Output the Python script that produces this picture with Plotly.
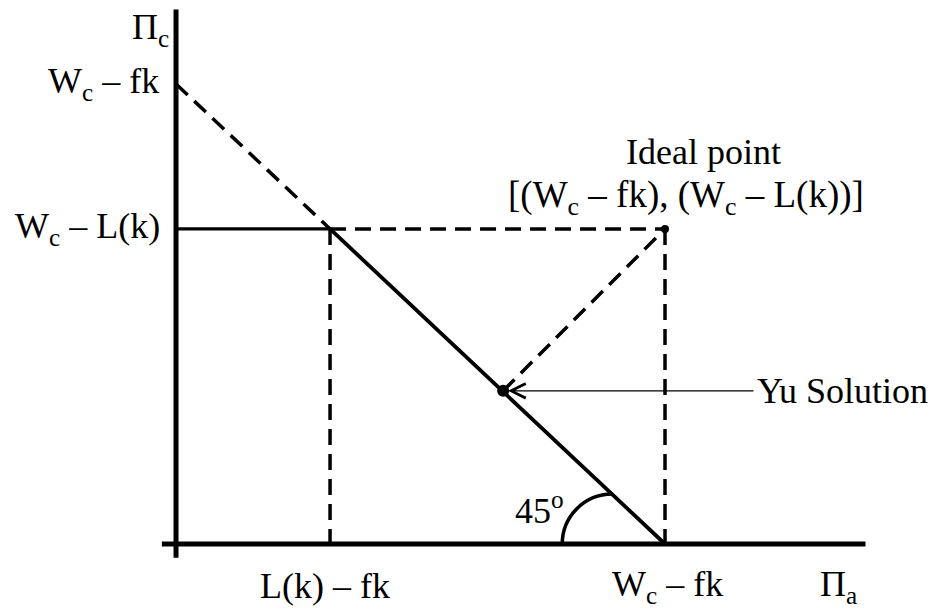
import plotly.graph_objects as go

# Conceptual values (abstract units: W_c - fk = 10 on both axes)
Wc_fk = 10.0            # intercept on both axes (W_c - fk)
Lk_fk = 3.15            # L(k) - fk on the Pi_a axis
Wc_Lk = 6.85            # W_c - L(k) on the Pi_c axis
ideal_point = [Wc_fk, Wc_Lk]
yu_solution = [6.69, 3.33]
axis_x_extent = [-0.29, 14.1]
axis_y_extent = [-0.3, 11.62]
arc_center_x = 8.92
arc_rx, arc_ry = 1.022, 1.087

tick_labels_y = ["W<sub>c</sub> – fk", "W<sub>c</sub> – L(k)"]
tick_labels_x = ["L(k) – fk", "W<sub>c</sub> – fk"]

FONT = "Liberation Serif"
FS = 36
BLACK = "black"
DASH = "16px,9px"

fig = go.Figure()

def seg(x0, y0, x1, y1, width, dash=None):
    fig.add_shape(type="line", x0=x0, y0=y0, x1=x1, y1=y1, xref="x", yref="y",
                  line=dict(color=BLACK, width=width, dash=dash), layer="above")

# axes
seg(0, axis_y_extent[0], 0, axis_y_extent[1], 5)
seg(axis_x_extent[0], 0, axis_x_extent[1], 0, 5)

# solid frontier
seg(0, Wc_Lk, Lk_fk, Wc_Lk, 3.2)
seg(Lk_fk, Wc_Lk, Wc_fk, 0, 3.8)

# dashed lines
seg(0, Wc_fk, Lk_fk, Wc_Lk, 3.5, DASH)
seg(Lk_fk, Wc_Lk, ideal_point[0], ideal_point[1], 3.5, DASH)
seg(Lk_fk, Wc_Lk, Lk_fk, 0, 3.5, DASH)
seg(ideal_point[0], ideal_point[1], ideal_point[0], 0, 3.5, DASH)
seg(yu_solution[0], yu_solution[1], ideal_point[0], ideal_point[1], 3.5, DASH)

# 45 degree arc (quarter circle drawn as cubic bezier)
k = 0.5523
cx = arc_center_x
p = (f"M {cx - arc_rx},0 C {cx - arc_rx},{k * arc_ry} {cx - k * arc_rx},{arc_ry} {cx},{arc_ry}")
fig.add_shape(type="path", path=p, xref="x", yref="y",
              line=dict(color=BLACK, width=3.5), layer="above")

# points
fig.add_trace(go.Scatter(x=[ideal_point[0]], y=[ideal_point[1]], mode="markers",
                         marker=dict(color=BLACK, size=8), showlegend=False, hoverinfo="skip"))
fig.add_trace(go.Scatter(x=[yu_solution[0]], y=[yu_solution[1]], mode="markers",
                         marker=dict(color=BLACK, size=12), showlegend=False, hoverinfo="skip"))

# arrow for Yu solution
fig.add_annotation(x=yu_solution[0] + 0.1, y=yu_solution[1], ax=11.84, ay=yu_solution[1],
                   xref="x", yref="y", axref="x", ayref="y", text="",
                   showarrow=True, arrowhead=5, arrowsize=2.2, arrowwidth=1.3,
                   arrowcolor=BLACK)

def label(text, x, y, xanchor="center", yanchor="middle", size=FS):
    fig.add_annotation(x=x, y=y, xref="x", yref="y", text=text, showarrow=False,
                       xanchor=xanchor, yanchor=yanchor, borderpad=0,
                       font=dict(family=FONT, size=size, color=BLACK))

label("Yu Solution", 11.86, yu_solution[1], xanchor="left")
label("Ideal point", 10.78, 8.52)
label("[(W<sub>c</sub> – fk), (W<sub>c</sub> – L(k))]", 10.43, 7.53, size=37)
label("Π<sub>c</sub>", -0.12, 11.19, xanchor="right")
label(tick_labels_y[0], -0.33, Wc_fk, xanchor="right")
label(tick_labels_y[1], -0.3, Wc_Lk, xanchor="right")
label(tick_labels_x[0], Lk_fk - 0.1, -0.92)
label(tick_labels_x[1], 10.06, -0.92)
label("Π<sub>a</sub>", 13.54, -0.92)
label("45<sup>o</sup>", 6.92, 0.77, xanchor="left")

# The page adds an 8px body margin, so the figure is 8px smaller and the
# ranges are set so that the drawing lands on the reference's positions.
fig.update_layout(
    width=933, height=603,
    margin=dict(l=0, r=0, t=0, b=0),
    paper_bgcolor="white", plot_bgcolor="white",
    xaxis=dict(range=[-3.436, 15.644], visible=False, fixedrange=True),
    yaxis=dict(range=[-1.4565, 11.652], visible=False, fixedrange=True),
    showlegend=False,
)

fig.write_html("out.html")
